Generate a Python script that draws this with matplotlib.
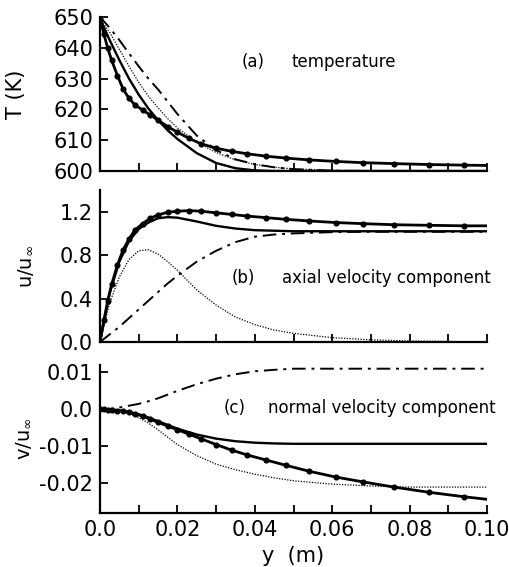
import numpy as np
import matplotlib
matplotlib.use("Agg")
import matplotlib.pyplot as plt

plt.rcParams['font.family'] = 'DejaVu Sans'
plt.rcParams['axes.unicode_minus'] = False

# common grid for the plain curves
y_grid = [0, 0.0025, 0.005, 0.0075, 0.01, 0.0125, 0.015, 0.0175, 0.02, 0.025,
          0.03, 0.035, 0.04, 0.045, 0.05, 0.06, 0.07, 0.08, 0.09, 0.1]
# mesh points of the marked solution
y_mesh = [0, 0.001, 0.002, 0.003, 0.0045, 0.006, 0.0075, 0.009, 0.011, 0.013,
          0.015, 0.0175, 0.02, 0.023, 0.026, 0.03, 0.034, 0.038, 0.043, 0.048,
          0.054, 0.061, 0.068, 0.076, 0.085, 0.094, 0.1]

# (a) temperature
T_mark = [649.5, 644.5, 639.8, 636, 631, 626.5, 623.6, 621.5, 619.8, 618.2, 616.5,
          614.4, 612.6, 610.6, 608.9, 607.4, 606.4, 605.6, 604.8, 604.2, 603.6,
          603.1, 602.7, 602.4, 602.1, 601.9, 601.8]
T_solid = [649.5, 642.5, 636, 630, 624.8, 620.3, 616.5, 613.2, 610.4, 605.8, 602.6,
           600.9, 600.2, 600, 600, 600, 600, 600, 600, 600]
T_dot = [649.5, 645, 639.5, 634, 628.8, 624.3, 620.5, 617, 614, 609.4, 606, 603.6,
         602.1, 601.2, 600.7, 600.2, 600, 600, 600, 600]
T_dash = [650, 646.5, 642.5, 638.2, 634, 630, 626.5, 622.5, 618.5, 611.5, 606.8,
          603.8, 602.2, 601.2, 600.6, 600.1, 600, 600, 600, 600]

# (b) axial velocity
u_mark = [0, 0.2, 0.38, 0.53, 0.71, 0.85, 0.95, 1.03, 1.09, 1.14, 1.17, 1.195,
          1.205, 1.21, 1.205, 1.19, 1.175, 1.16, 1.145, 1.13, 1.115, 1.10, 1.09,
          1.08, 1.075, 1.07, 1.07]
u_solid = [0, 0.45, 0.74, 0.93, 1.04, 1.1, 1.14, 1.15, 1.145, 1.11, 1.07, 1.045,
           1.03, 1.025, 1.02, 1.02, 1.02, 1.02, 1.02, 1.02]
u_dot = [0, 0.36, 0.6, 0.76, 0.84, 0.85, 0.81, 0.74, 0.66, 0.48, 0.34, 0.23,
         0.16, 0.11, 0.08, 0.04, 0.02, 0.01, 0.005, 0.0]
u_dash = [0, 0.07, 0.14, 0.22, 0.30, 0.38, 0.46, 0.54, 0.61, 0.74, 0.84, 0.92,
          0.97, 0.99, 1.0, 1.012, 1.015, 1.015, 1.015, 1.015]

# (c) normal velocity
v_mark = [0, 0, -0.0001, -0.0001, -0.0003, -0.0005, -0.0008, -0.0012, -0.0018,
          -0.0026, -0.0035, -0.0045, -0.0055, -0.0067, -0.0079, -0.0095, -0.011,
          -0.0123, -0.0137, -0.0151, -0.0167, -0.0183, -0.0196, -0.021, -0.0224,
          -0.0236, -0.0243]
v_solid = [0, -0.0001, -0.0003, -0.0007, -0.0013, -0.0022, -0.0032, -0.0042,
           -0.0052, -0.0068, -0.0079, -0.0086, -0.009, -0.0092, -0.0093, -0.0093,
           -0.0093, -0.0093, -0.0093, -0.0093]
v_dot = [0, -0.0001, -0.0004, -0.0012, -0.0022, -0.0037, -0.0055, -0.0075,
         -0.0095, -0.0125, -0.0148, -0.0163, -0.0175, -0.0185, -0.0193, -0.0202,
         -0.0207, -0.021, -0.021, -0.021]
v_dash = [0, 0.0001, 0.0005, 0.001, 0.0015, 0.0022, 0.003, 0.004, 0.005, 0.0068,
          0.0083, 0.0095, 0.0103, 0.0107, 0.011, 0.011, 0.011, 0.011, 0.011, 0.011]

x_ticks = [0.0, 0.02, 0.04, 0.06, 0.08, 0.10]
x_ticklabels = ['0.0', '0.02', '0.04', '0.06', '0.08', '0.10']

fig = plt.figure(figsize=(5.09, 5.67), dpi=100)
W = 509.0
H = 567.0
left, right = 100, 487


def make_ax(top, bottom):
    return fig.add_axes([left / W, 1 - bottom / H, (right - left) / W, (bottom - top) / H])


ax_a = make_ax(17, 171)
ax_b = make_ax(190, 342)
ax_c = make_ax(365, 513)

panels = [
    (ax_a, T_mark, T_solid, T_dot, T_dash),
    (ax_b, u_mark, u_solid, u_dot, u_dash),
    (ax_c, v_mark, v_solid, v_dot, v_dash),
]

for ax, mark, solid, dot, dash in panels:
    ax.plot(y_grid, dash, color='black', lw=1.4, linestyle=(0, (7, 3, 1.5, 3)))
    ax.plot(y_grid, dot, color='black', lw=0.9, linestyle=(0, (1, 1.2)))
    ax.plot(y_grid, solid, color='black', lw=1.7)
    ax.plot(y_mesh, mark, color='black', lw=2.0, marker='o', markersize=3.4,
            markevery=list(range(len(y_mesh) - 1)))
    ax.set_xlim(0, 0.1)
    for s in ['top', 'right']:
        ax.spines[s].set_visible(False)
    for s in ['left', 'bottom']:
        ax.spines[s].set_linewidth(1.6)
    ax.set_xticks(np.arange(0, 0.1001, 0.01))
    ax.tick_params(direction='in', length=6, width=1.3, labelsize=15, pad=5)
    ax.set_xticklabels([])

ax_a.set_ylim(600, 650)
ax_a.set_yticks([600, 610, 620, 630, 640, 650])
ax_a.set_ylabel('T (K)', fontsize=15)
ax_a.yaxis.set_label_coords(-0.19, 0.5)
ax_a.text(0.0365, 635.5, '(a)', fontsize=12, va='center')
ax_a.text(0.0495, 635.5, 'temperature', fontsize=12, va='center')

ax_b.set_ylim(0, 1.4)
ax_b.set_yticks([0.0, 0.4, 0.8, 1.2])
ax_b.set_yticklabels(['0.0', '0.4', '0.8', '1.2'])
ax_b.set_ylabel(r'u/u$_\infty$', fontsize=14)
ax_b.yaxis.set_label_coords(-0.168, 0.5)
ax_b.text(0.034, 0.59, '(b)', fontsize=12, va='center')
ax_b.text(0.047, 0.59, 'axial velocity component', fontsize=12, va='center')

ax_c.set_ylim(-0.028, 0.012)
ax_c.set_yticks([-0.02, -0.01, 0.0, 0.01])
ax_c.set_yticklabels(['-0.02', '-0.01', '0.0', '0.01'])
ax_c.set_ylabel(r'v/u$_\infty$', fontsize=14)
ax_c.yaxis.set_label_coords(-0.173, 0.5)
ax_c.text(0.032, 0.0005, '(c)', fontsize=12, va='center')
ax_c.text(0.0435, 0.0005, 'normal velocity component', fontsize=12, va='center')

ax_c.set_xticks(x_ticks)
ax_c.set_xticklabels(x_ticklabels)
ax_c.set_xticks(np.arange(0, 0.1001, 0.01), minor=True)
ax_c.tick_params(which='minor', direction='in', length=6, width=1.3)
ax_c.set_xlabel('y  (m)', fontsize=15)

fig.savefig('out.png', dpi=100)
